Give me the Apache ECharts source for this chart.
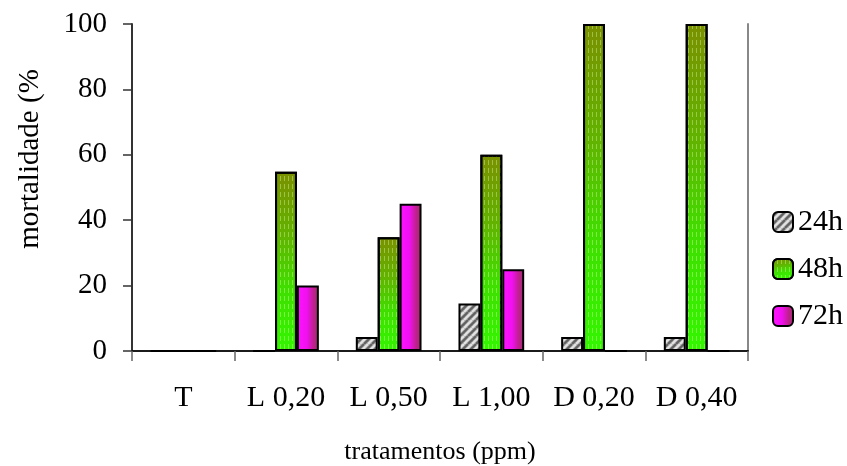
<!DOCTYPE html>
<html lang="pt">
<head>
  <meta charset="UTF-8">
  <title>mortalidade</title>
  <script src="https://cdn.jsdelivr.net/npm/echarts@6/dist/echarts.min.js"></script>
  <style>
    * { margin: 0; padding: 0; }
    body { background: #fff; }
    #chart { width: 847px; height: 466px; }
  </style>
</head>
<body>
  <div id="chart"></div>
  <script>
    // dados
    const tratamentos = ['T', 'L 0,20', 'L 0,50', 'L 1,00', 'D 0,20', 'D 0,40'];
    const series24h = [0, 0, 4.3, 14.5, 4.3, 4.3];
    const series48h = [0, 54.8, 34.8, 60, 100, 100];
    const series72h = [0, 20, 45, 25, 0, 0];
    const yTicks = [0, 20, 40, 60, 80, 100];

    const serif = '"Liberation Serif", "Times New Roman", serif';

    // hachura cinza diagonal para 24h
    function hatch() {
      const c = document.createElement('canvas');
      c.width = 8; c.height = 8;
      const g = c.getContext('2d');
      g.fillStyle = '#a9a9a9';
      g.fillRect(0, 0, 8, 8);
      g.lineWidth = 2;
      g.strokeStyle = '#e4e4e4';
      [-8, 0, 8].forEach(function (x) {
        g.beginPath(); g.moveTo(x, 8); g.lineTo(x + 8, 0); g.stroke();
      });
      g.strokeStyle = '#606060';
      [-4, 4].forEach(function (x) {
        g.beginPath(); g.moveTo(x, 8); g.lineTo(x + 8, 0); g.stroke();
      });
      return c;
    }

    const chart = echarts.init(document.getElementById('chart'));

    const option = {
      animation: false,
      grid: { left: 132, right: 99, top: 24, bottom: 115, outerBoundsMode: 'none', containLabel: false },
      legend: {
        orient: 'vertical',
        left: 767,
        top: 202,
        itemWidth: 20,
        itemHeight: 20,
        itemGap: 17,
        textStyle: { fontFamily: serif, fontSize: 30, color: '#000', lineHeight: 20 },
        data: ['24h', '48h', '72h']
      },
      xAxis: [
        {
          type: 'category',
          data: tratamentos,
          axisLine: { lineStyle: { color: '#000', width: 1.5 } },
          axisTick: { show: true, interval: 0, length: 10, lineStyle: { color: '#666', width: 1.5 } },
          axisLabel: { interval: 0, margin: 32, fontFamily: serif, fontSize: 30, color: '#000' },
          name: 'tratamentos (ppm)',
          nameLocation: 'middle',
          nameGap: 88,
          nameTextStyle: { fontFamily: serif, fontSize: 26, color: '#000' }
        },
        {
          type: 'category',
          position: 'top',
          data: tratamentos,
          axisLine: { lineStyle: { color: '#111', width: 1.5 } },
          axisTick: { show: false },
          axisLabel: { show: false }
        }
      ],
      yAxis: [
        {
          type: 'value',
          min: 0,
          max: 100,
          interval: 20,
          axisLine: { show: true, lineStyle: { color: '#333', width: 2 } },
          axisTick: { show: true, length: 9, lineStyle: { color: '#333', width: 1.5 } },
          axisLabel: {
            margin: 25, fontFamily: serif, fontSize: 29, color: '#000',
            formatter: function (v) { return yTicks.indexOf(v) >= 0 ? String(v) : ''; }
          },
          splitLine: { show: false }
        },
        {
          type: 'value',
          position: 'right',
          min: 0,
          max: 100,
          axisLine: { show: true, lineStyle: { color: '#888', width: 2 } },
          axisTick: { show: false },
          axisLabel: { show: false },
          splitLine: { show: false }
        }
      ],
      graphic: [
        {
          type: 'text',
          x: 30,
          y: 159,
          rotation: Math.PI / 2,
          style: {
            text: 'mortalidade (%',
            font: '29px ' + serif,
            fill: '#000',
            align: 'center',
            verticalAlign: 'middle'
          }
        }
      ],
      series: [
        {
          name: '24h',
          type: 'bar',
          data: series24h,
          barGap: '0%',
          barCategoryGap: '36%',
          itemStyle: {
            color: { image: hatch(), repeat: 'repeat' },
            borderColor: '#000',
            borderWidth: 2
          }
        },
        {
          name: '48h',
          type: 'bar',
          data: series48h,
          barGap: '0%',
          barCategoryGap: '36%',
          itemStyle: {
            color: new echarts.graphic.LinearGradient(0, 0, 0.15, 1, [
              { offset: 0, color: '#7a9000' },
              { offset: 0.35, color: '#62b200' },
              { offset: 0.65, color: '#40de00' },
              { offset: 1, color: '#33f600' }
            ]),
            borderColor: '#000',
            borderWidth: 2,
            decal: {
              symbol: 'rect',
              symbolSize: 1,
              dashArrayX: [1, 3],
              dashArrayY: [5, 3],
              color: 'rgba(220,255,170,0.4)'
            }
          }
        },
        {
          name: '72h',
          type: 'bar',
          data: series72h,
          barGap: '0%',
          barCategoryGap: '36%',
          itemStyle: {
            color: new echarts.graphic.LinearGradient(0, 0, 1, 0, [
              { offset: 0, color: '#ff14ff' },
              { offset: 0.45, color: '#f010f0' },
              { offset: 0.75, color: '#c0208f' },
              { offset: 1, color: '#993366' }
            ]),
            borderColor: '#000',
            borderWidth: 2
          }
        }
      ]
    };

    chart.setOption(option);
  </script>
</body>
</html>
